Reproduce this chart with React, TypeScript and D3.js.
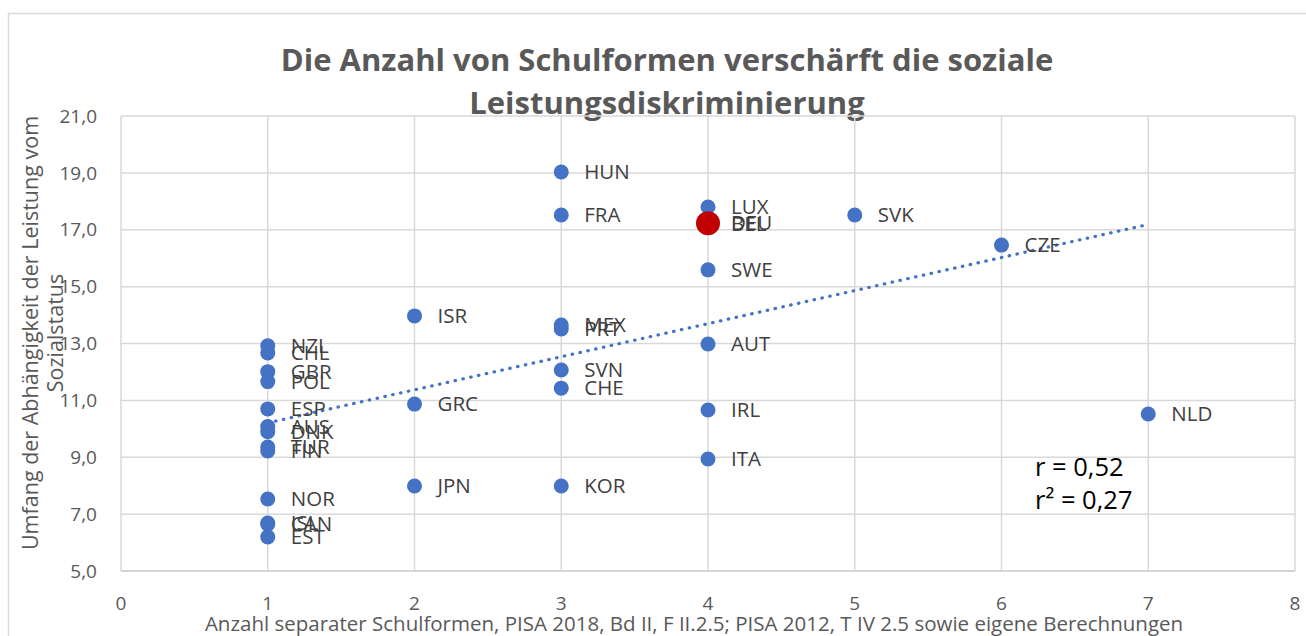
import React from "react";
import * as d3 from "d3";

const countries = ["NZL","CHL","GBR","POL","ESP","AUS","DNK","TUR","FIN","NOR","ISL","CAN","EST","ISR","GRC","JPN","HUN","FRA","MEX","PRT","SVN","CHE","KOR","LUX","BEL","SWE","AUT","IRL","ITA","SVK","CZE","NLD","DEU"];
const schoolTypes = [1,1,1,1,1,1,1,1,1,1,1,1,1,2,2,2,3,3,3,3,3,3,3,4,4,4,4,4,4,5,6,7,4];
const socialGradient = [12.92,12.67,12.01,11.66,10.70,10.08,9.90,9.36,9.22,7.53,6.69,6.65,6.20,13.97,10.87,7.99,19.03,17.52,13.65,13.51,12.07,11.43,7.99,17.80,17.20,15.59,12.98,10.66,8.94,17.52,16.46,10.52,17.23];
const highlight = ["DEU"];

const xTicks = [0,1,2,3,4,5,6,7,8];
const yTicks = [5,7,9,11,13,15,17,19,21];

const titleLines = ["Die Anzahl von Schulformen verschärft die soziale", "Leistungsdiskriminierung"];
const yTitleLines = ["Umfang der Abhängigkeit der Leistung vom", "Sozialstatus"];
const xTitle = "Anzahl separater Schulformen, PISA 2018, Bd II, F II.2.5; PISA 2012, T IV 2.5 sowie eigene Berechnungen";
const statLines = ["r = 0,52", "r² = 0,27"];

export default function App() {
  const W = 1306, H = 636;
  const left = 121, right = 1295, top = 116, bottom = 571;
  const x = d3.scaleLinear().domain([0, 8]).range([left, right]);
  const y = d3.scaleLinear().domain([5, 21]).range([bottom, top]);
  const font = "'Open Sans', sans-serif";
  const fmt = (v: number) => d3.format(".1f")(v).replace(".", ",");

  const pts = countries.map((c, i) => ({ c, x: schoolTypes[i], y: socialGradient[i] }));
  const mx = d3.mean(pts, p => p.x)!;
  const my = d3.mean(pts, p => p.y)!;
  const sxy = d3.sum(pts, p => (p.x - mx) * (p.y - my));
  const sxx = d3.sum(pts, p => (p.x - mx) ** 2);
  const slope = sxy / sxx;
  const icpt = my - slope * mx;
  const [x0, x1] = d3.extent(pts, p => p.x) as [number, number];
  const line = d3.line<number>().x(v => x(v)).y(v => y(icpt + slope * v));

  const normal = pts.filter(p => !highlight.includes(p.c));
  const special = pts.filter(p => highlight.includes(p.c));

  return (
    <svg width={W} height={H} style={{ position: "fixed", left: 0, top: 0, background: "#fff" }} fontFamily={font}>
      <rect x={8.5} y={13.5} width={1320} height={660} fill="#fff" stroke="#d9d9d9" strokeWidth={1.5} />
      {titleLines.map((t, i) => (
        <text key={t} x={667} y={71 + i * 43} textAnchor="middle" fontSize={31} fontWeight={700} fill="#595959">{t}</text>
      ))}
      {yTicks.map(t => (
        <line key={"gy" + t} x1={left} x2={right} y1={y(t)} y2={y(t)} stroke="#d9d9d9" strokeWidth={1.5} />
      ))}
      {xTicks.map(t => (
        <line key={"gx" + t} x1={x(t)} x2={x(t)} y1={top} y2={bottom} stroke="#d9d9d9" strokeWidth={1.5} />
      ))}
      <line x1={left} x2={right} y1={bottom} y2={bottom} stroke="#d0d0d0" strokeWidth={1.5} />
      {yTicks.map(t => (
        <text key={"ty" + t} x={97} y={y(t)} dy="0.35em" textAnchor="end" fontSize={19} fill="#595959">{fmt(t)}</text>
      ))}
      {xTicks.map(t => (
        <text key={"tx" + t} x={x(t)} y={603} dy="0.35em" textAnchor="middle" fontSize={19} fill="#595959">{t}</text>
      ))}
      {normal.map(p => (
        <circle key={"p" + p.c} cx={x(p.x)} cy={y(p.y)} r={7.5} fill="#4472C4" />
      ))}
      {special.map(p => (
        <circle key={"s" + p.c} cx={x(p.x)} cy={y(p.y)} r={12} fill="#C00000" />
      ))}
      <path d={line([x0, x1]) || ""} fill="none" stroke="#4472C4" strokeWidth={3.2} strokeLinecap="round" strokeDasharray="0.5 7.5" />
      {pts.map(p => (
        <text key={"l" + p.c} x={x(p.x) + 23} y={y(p.y)} dy="0.35em" fontSize={20.5} fill="#404040">{p.c}</text>
      ))}
      {statLines.map((s, i) => (
        <text key={s} x={1035} y={467 + i * 33} dy="0.35em" fontSize={25.5} fill="#000">{s}</text>
      ))}
      {yTitleLines.map((t, i) => (
        <text key={t} transform={`translate(${30 + i * 25},${333}) rotate(-90)`} dy="0.35em" textAnchor="middle" fontSize={21.5} fill="#595959">{t}</text>
      ))}
      <text x={694} y={624} dy="0.35em" textAnchor="middle" fontSize={20.5} fill="#595959">{xTitle}</text>
    </svg>
  );
}
